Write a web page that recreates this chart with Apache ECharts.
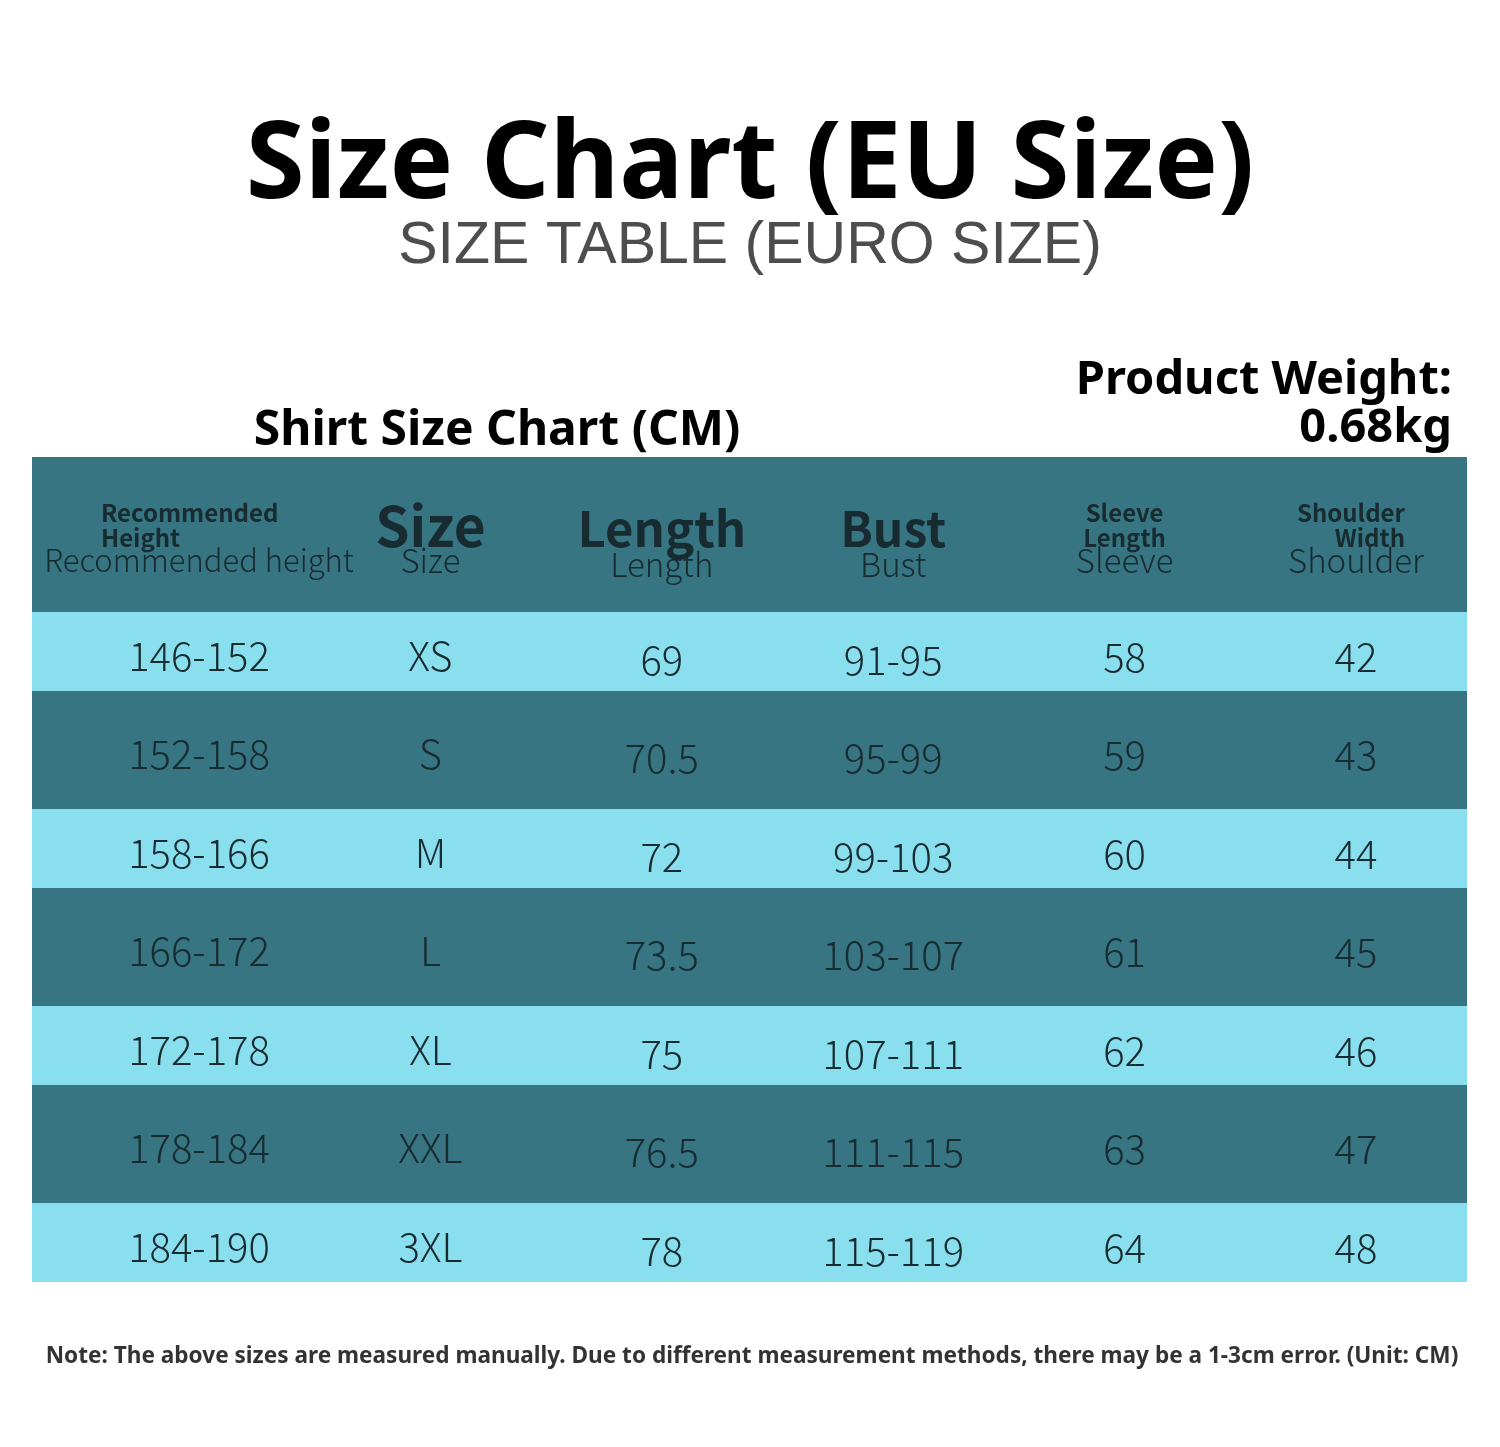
<!DOCTYPE html>
<html><head><meta charset="utf-8">
<script src="https://cdn.jsdelivr.net/npm/echarts@6/dist/echarts.min.js"></script>
<style>html,body{margin:0;padding:0;background:#fff}#c{width:1500px;height:1447px}</style>
</head><body><div id="c"></div>
<script>
// ---- data ----
const heights   = ['146-152','152-158','158-166','166-172','172-178','178-184','184-190'];
const sizes     = ['XS','S','M','L','XL','XXL','3XL'];
const lengths   = ['69','70.5','72','73.5','75','76.5','78'];
const busts     = ['91-95','95-99','99-103','103-107','107-111','111-115','115-119'];
const sleeves   = ['58','59','60','61','62','63','64'];
const shoulders = ['42','43','44','45','46','47','48'];
const headerMain = ['Recommended\nHeight','Size','Length','Bust','Sleeve\nLength','Shoulder\nWidth'];
const headerSub  = ['Recommended height','Size','Length','Bust','Sleeve','Shoulder'];
const titleText = 'Size Chart (EU Size)';
const subtitleText = 'SIZE TABLE (EURO SIZE)';
const tableTitle = 'Shirt Size Chart (CM)';
const weightLines = ['Product Weight:', '0.68kg'];
const noteText = 'Note: The above sizes are measured manually. Due to different measurement methods, there may be a 1-3cm error. (Unit: CM)';

// ---- layout / style ----
const HEADER_H = 155, LIGHT_H = 79, DARK_H = 118;
const DARK = '#367581', LIGHT = '#89dfee', INK = '#172b30';
const columns = [heights, sizes, lengths, busts, sleeves, shoulders];
const nRows = heights.length;
const rowH = i => (i % 2 === 0 ? LIGHT_H : DARK_H);
const rowTop = i => { let t = HEADER_H; for (let k = 0; k < i; k++) t += rowH(k); return t; };
const Y_MAX = rowTop(nRows);
const X_MIN = -0.7217, X_MAX = 5.4797;
const colDy = [0, 0, 4, 4, 1, 1];
const hdrAlign = ['left','center','center','center','center','right'];
const hdrDx = [-98, 0, 0, 0, 0, 49];
const bigFont = [0, 55, 49, 48, 0, 0];
const subFont = [31, 33, 33, 33, 33, 33];
const NUM_FONT = '"Noto Sans CJK SC", "Noto Sans", sans-serif';
const BOLD_FONT = '"Noto Sans", "Noto Sans CJK SC", sans-serif';

const bandData = [-1].concat(heights.map((_, i) => i));
const cellData = [];
columns.forEach((col, c) => col.forEach((v, r) => cellData.push([c, r, v])));
const headerData = headerMain.map((m, c) => [c, m, headerSub[c]]);

const chart = echarts.init(document.getElementById('c'), null, {renderer: 'canvas'});
chart.setOption({
  backgroundColor: '#ffffff',
  animation: false,
  grid: {left: 32, right: 33, top: 457, bottom: 165},
  xAxis: {type: 'value', min: X_MIN, max: X_MAX, show: false},
  yAxis: {type: 'value', min: 0, max: Y_MAX, inverse: true, show: false},
  graphic: [
    {type: 'text', left: 'center', top: 114, style: {text: titleText, font: 'bold 107px ' + BOLD_FONT, fill: '#000'}},
    {type: 'text', left: 'center', top: 217, style: {text: subtitleText, font: '59px "Liberation Sans", Arial, sans-serif', fill: '#4d4d4d'}},
    {type: 'text', x: 497, y: 431, style: {text: tableTitle, font: 'bold 48px ' + BOLD_FONT, fill: '#000', align: 'center', verticalAlign: 'middle'}},
    {type: 'text', x: 1452, y: 381, style: {text: weightLines[0], font: 'bold 47px ' + BOLD_FONT, fill: '#000', align: 'right', verticalAlign: 'middle'}},
    {type: 'text', x: 1452, y: 429, style: {text: weightLines[1], font: 'bold 47px ' + BOLD_FONT, fill: '#000', align: 'right', verticalAlign: 'middle'}},
    {type: 'text', x: 752, y: 1357, style: {text: noteText, font: 'bold 22.6px ' + BOLD_FONT, fill: '#333', align: 'center', verticalAlign: 'middle'}}
  ],
  series: [
    {
      type: 'custom', name: 'bands', data: bandData, silent: true,
      encode: {x: -1, y: 0},
      renderItem: (params, api) => {
        const r = api.value(0);
        const top = r < 0 ? 0 : rowTop(r);
        const bot = r < 0 ? HEADER_H : rowTop(r) + rowH(r);
        const p1 = api.coord([X_MIN, top]), p2 = api.coord([X_MAX, bot]);
        return {type: 'rect', shape: {x: p1[0], y: p1[1], width: p2[0] - p1[0], height: p2[1] - p1[1]},
                style: {fill: r < 0 ? DARK : (r % 2 === 0 ? LIGHT : DARK)}};
      }
    },
    {
      type: 'custom', name: 'header', data: headerData, silent: true,
      renderItem: (params, api) => {
        const c = headerData[params.dataIndex][0];
        const main = headerData[params.dataIndex][1], sub = headerData[params.dataIndex][2];
        const p = api.coord([c, HEADER_H / 2]);
        const small = main.indexOf('\n') >= 0;
        const children = [];
        if (small) {
          children.push({type: 'text', x: p[0] + hdrDx[c], y: p[1] - 34, style: {text: main, font: 'bold 24px ' + NUM_FONT, lineHeight: 25, fill: INK, align: hdrAlign[c], verticalAlign: 'top'}});
        } else {
          children.push({type: 'text', x: p[0], y: p[1] - 8 + (c > 1 ? 2 : 0), style: {text: main, font: 'bold ' + bigFont[c] + 'px ' + NUM_FONT, fill: INK, align: 'center', verticalAlign: 'middle'}});
        }
        children.push({type: 'text', x: p[0], y: p[1] + 26 + (c === 2 || c === 3 ? 4 : 0), style: {text: sub, font: '300 ' + subFont[c] + 'px ' + NUM_FONT, fill: INK, align: 'center', verticalAlign: 'middle'}});
        return {type: 'group', children};
      }
    },
    {
      type: 'custom', name: 'cells', data: cellData, silent: true,
      encode: {x: 0, y: 1},
      renderItem: (params, api) => {
        const c = api.value(0), r = api.value(1);
        const text = cellData[params.dataIndex][2];
        const p = api.coord([c, rowTop(r) + rowH(r) / 2]);
        return {type: 'text', x: p[0], y: p[1] + 4 + colDy[c],
                style: {text, font: '300 40px ' + NUM_FONT, fill: INK, align: 'center', verticalAlign: 'middle'}};
      }
    }
  ]
});
</script></body></html>
